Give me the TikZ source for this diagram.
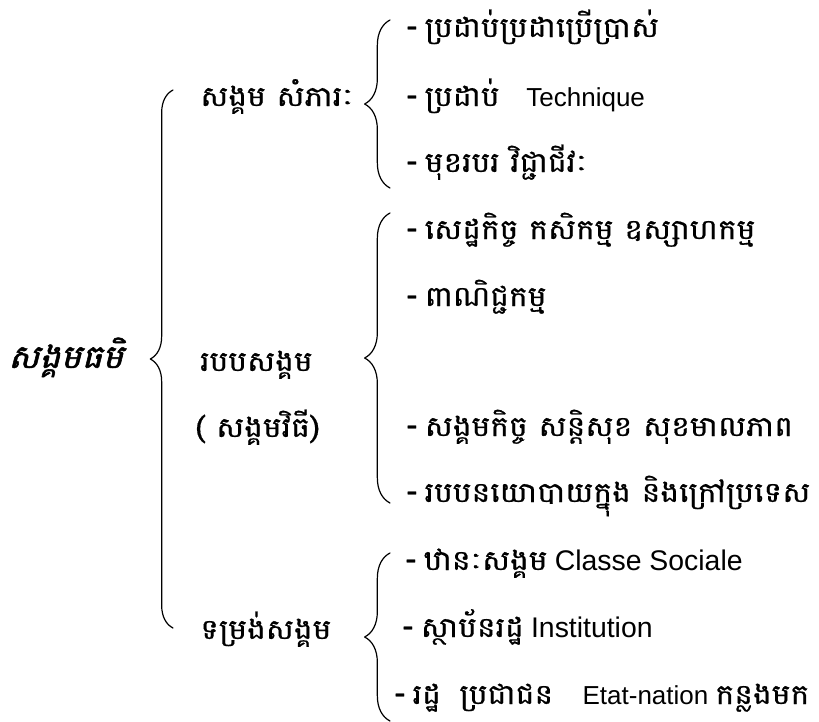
\documentclass[tikz,border=0pt]{standalone}
\usepackage{fontspec}
\setmainfont{Liberation Sans}
\newfontfamily\kh[Script=Khmer,Scale=1.08,FakeStretch=1.12,FakeBold=0.6]{Battambang}
\newfontfamily\khit[Script=Khmer,Scale=1.25,FakeStretch=1.08,FakeSlant=0.25,FakeBold=1.6]{Battambang}
\newfontfamily\dashfont[Scale=1.3,FakeBold=0.8]{Liberation Sans}
\newcommand{\dsh}{{\dashfont -}\ }
\newcommand{\latbig}[1]{{\fontsize{21.3}{24}\selectfont #1}}
\usetikzlibrary{decorations.pathreplacing}
\begin{document}
\begin{tikzpicture}[x=0.75pt, y=-0.75pt, line join=round, line cap=round,
    every node/.style={inner sep=0pt, anchor=base west, font=\fontsize{19.5}{23}\selectfont},
    brc/.style={decorate, decoration={brace, amplitude=#1}, line width=0.9pt}]
  \useasboundingbox (0,0) rectangle (819,722);
  % root and first level
  \node (root) at (8,368) {\khit សង្គមធមិ};
  \node (mat)  at (200,106) {\kh សង្គម សំភារៈ};
  \node (reg)  at (200,371) {\kh របបសង្គម};
  \node (regb) at (195,437) {\kh ( សង្គមវិធី)};
  \node (form) at (200,639) {\kh ទម្រង់សង្គម};
  % braces
  \coordinate (all-t) at (173,90);   \coordinate (all-b) at (173,628);
  \coordinate (mat-t) at (390,20);   \coordinate (mat-b) at (390,188);
  \coordinate (reg-t) at (390,213);  \coordinate (reg-b) at (390,503);
  \coordinate (form-t) at (390,553); \coordinate (form-b) at (390,721);
  \draw[brc=17pt] (all-b) -- (all-t);
  \draw[brc=19pt] (mat-b) -- (mat-t);
  \draw[brc=19pt] (reg-b) -- (reg-t);
  \draw[brc=19pt] (form-b) -- (form-t);
  % second level
  \node (m1) at (406,37)  {\dsh{\kh ប្រដាប់ប្រដាប្រើប្រាស់}};
  \node (m2) at (406,106) {\dsh{\kh ប្រដាប់}\hspace{20pt}Technique};
  \node (m3) at (406,172) {\dsh{\kh មុខរបរ វិជ្ជាជីវៈ}};
  \node (r1) at (406,239) {\dsh{\kh សេដ្ឋកិច្ច កសិកម្ម ឧស្សាហកម្ម}};
  \node (r2) at (406,306) {\dsh{\kh ពាណិជ្ជកម្ម}};
  \node (r3) at (406,436) {\dsh{\kh សង្គមកិច្ច សន្តិសុខ សុខមាលភាព}};
  \node (r4) at (406,502) {\dsh{\kh របបនយោបាយក្នុង និងក្រៅប្រទេស}};
  \node (f1) at (405,570) {\dsh{\kh ឋានៈសង្គម} \latbig{Classe Sociale}};
  \node (f2) at (402,637) {\dsh{\kh ស្ថាប័នរដ្ឋ} \latbig{Institution}};
  \node (f3) at (394,704) {\dsh{\kh រដ្ឋ\hspace{14pt}ប្រជាជន}\hspace{22pt}Etat-nation {\kh កន្លងមក}};
\end{tikzpicture}
\end{document}
